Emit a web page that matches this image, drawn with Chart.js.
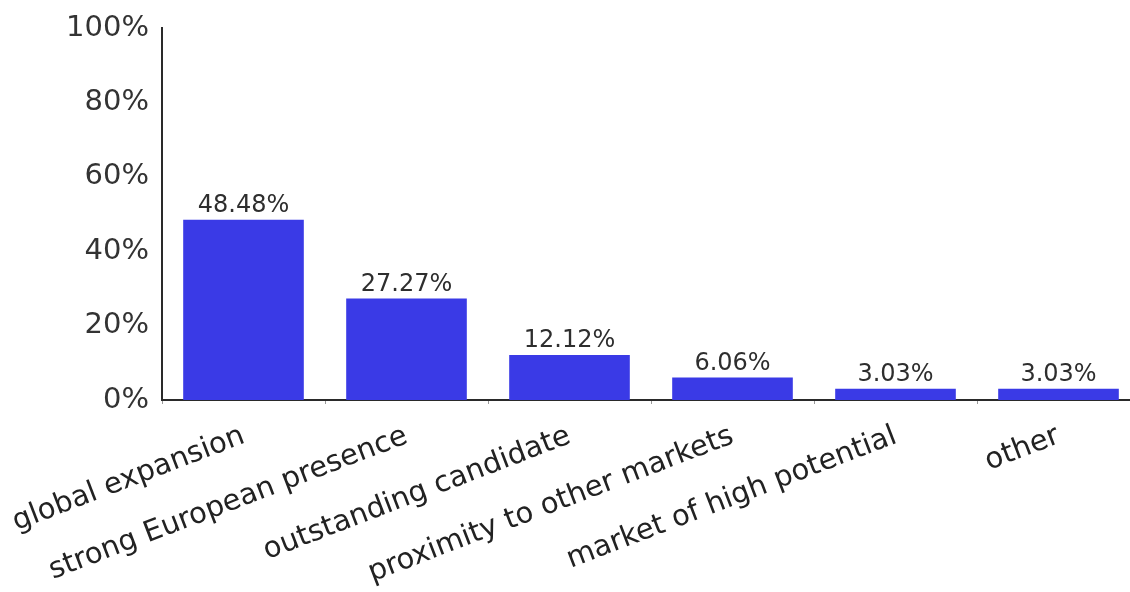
<!DOCTYPE html>
<html>
<head>
<meta charset="utf-8">
<script src="https://cdn.jsdelivr.net/npm/chart.js@4.4.1/dist/chart.umd.min.js"></script>
<style>
  html, body { margin: 0; padding: 0; background: #fff; overflow: hidden; }
  #wrap { width: 1140px; height: 592px; }
</style>
</head>
<body>
<div id="wrap"><canvas id="reasonsChart" width="1140" height="592"></canvas></div>
<script>
// Motivos de la elección, en porcentaje de respuestas
const categories = [
    "global expansion",
    "strong European presence",
    "outstanding candidate",
    "proximity to other markets",
    "market of high potential",
    "other"
];
const shares = [48.48, 27.27, 12.12, 6.06, 3.03, 3.03];
const yTicks = [0, 20, 40, 60, 80, 100];

const FONT = "'DejaVu Sans', Verdana, sans-serif";

// Etiqueta de valor encima de cada barra
const valueLabels = {
    id: "valueLabels",
    afterDatasetsDraw(chart) {
        const ctx = chart.ctx;
        const meta = chart.getDatasetMeta(0);
        ctx.save();
        ctx.font = "24px " + FONT;
        ctx.fillStyle = "#2e2e2e";
        ctx.textAlign = "center";
        ctx.textBaseline = "bottom";
        meta.data.forEach(function (bar, i) {
            ctx.fillText(shares[i].toFixed(2) + "%", bar.x, bar.y - 2);
        });
        ctx.restore();
    }
};

document.addEventListener("DOMContentLoaded", function () {
    const ctx = document.getElementById("reasonsChart").getContext("2d");
    new Chart(ctx, {
        type: "bar",
        data: {
            labels: categories,
            datasets: [{
                data: shares,
                backgroundColor: "#3a3ae6",
                borderWidth: 0,
                barPercentage: 0.74,
                categoryPercentage: 1.0
            }]
        },
        options: {
            responsive: false,
            animation: false,
            layout: { padding: { top: 28, right: 0, bottom: 0, left: 0 } },
            plugins: {
                legend: { display: false },
                tooltip: { enabled: false }
            },
            scales: {
                x: {
                    grid: {
                        display: true,
                        drawOnChartArea: false,
                        drawTicks: true,
                        tickLength: 4,
                        color: "#999"
                    },
                    border: { display: true, color: "#2a2a2a", width: 2 },
                    ticks: {
                        autoSkip: false,
                        maxRotation: 21,
                        minRotation: 21,
                        padding: 15,
                        color: "#222",
                        font: { family: FONT, size: 29 }
                    },
                    afterFit(scale) {
                        // las etiquetas giradas pueden salirse por la izquierda
                        scale.height = 192;
                        scale.paddingLeft = 0;
                        scale.paddingRight = 0;
                    }
                },
                y: {
                    min: 0,
                    max: 100,
                    afterBuildTicks(scale) {
                        scale.ticks = yTicks.map(function (v) { return { value: v }; });
                    },
                    grid: { display: false },
                    border: { display: true, color: "#2a2a2a", width: 2 },
                    ticks: {
                        padding: 5,
                        color: "#333",
                        font: { family: FONT, size: 29 },
                        callback: function (v) { return v + "%"; }
                    },
                    afterFit(scale) { scale.width = 162; }
                }
            }
        },
        plugins: [valueLabels]
    });
});
</script>
</body>
</html>
